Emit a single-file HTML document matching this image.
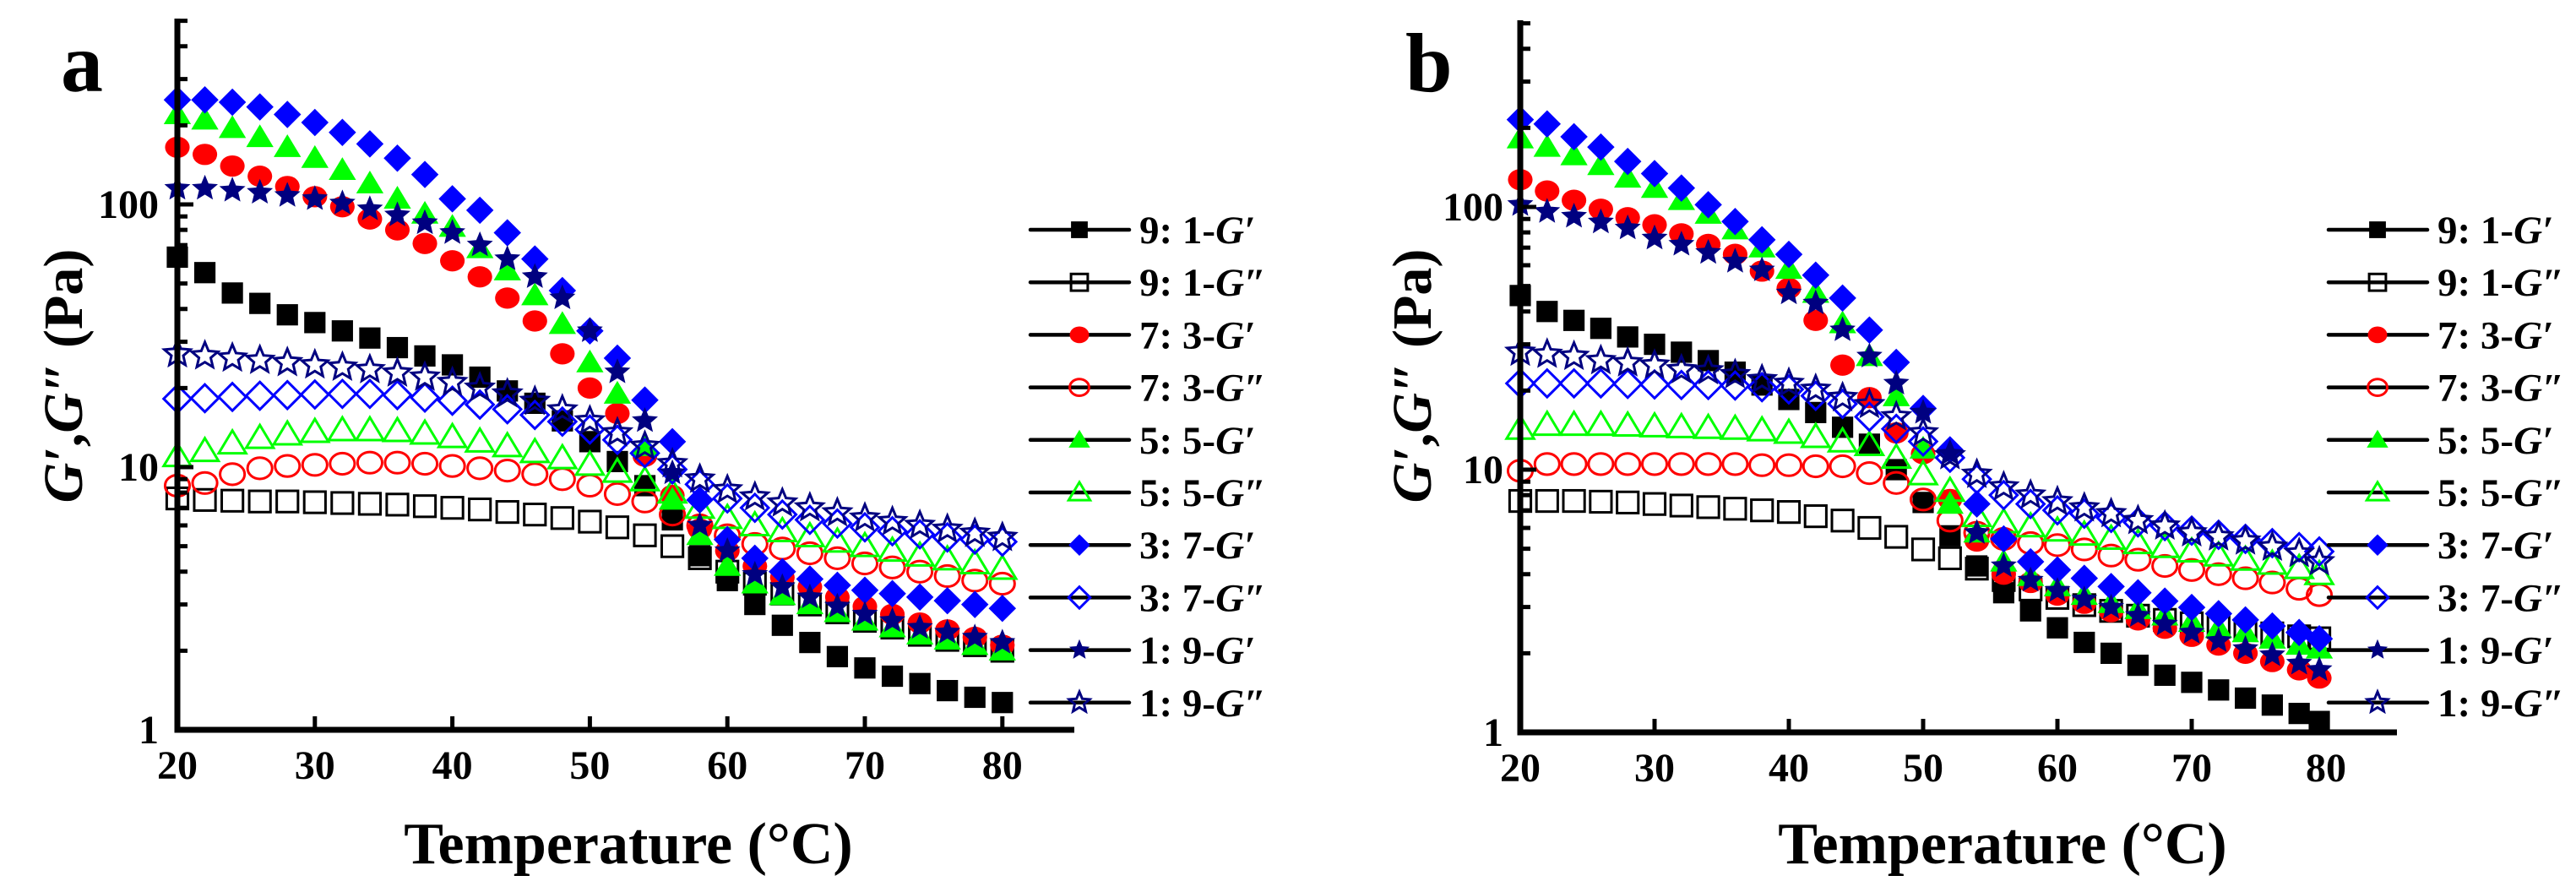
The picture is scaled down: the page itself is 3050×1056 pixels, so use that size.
<!DOCTYPE html>
<html><head><meta charset="utf-8"><style>
html,body{margin:0;padding:0;background:#fff;}
svg{display:block;font-family:"Liberation Serif",serif;font-weight:bold;}
</style></head><body>
<svg id="fig" width="3050" height="1056" viewBox="0 0 3050 1056" xmlns="http://www.w3.org/2000/svg"></svg>
<script>
const tempsA=[20,22,24,26,28,30,32,34,36,38,40,42,44,46,48,50,52,54,56,58,60,62,64,66,68,70,72,74,76,78,80];
const tempsB=[20,22,24,26,28,30,32,34,36,38,40,42,44,46,48,50,52,54,56,58,60,62,64,66,68,70,72,74,76,78,79.5];
const seriesNames=["9: 1-G′","9: 1-G″","7: 3-G′","7: 3-G″","5: 5-G′","5: 5-G″","3: 7-G′","3: 7-G″","1: 9-G′","1: 9-G″"];
const a_91Gp=[63,55,46,42,38,35.5,33,31,28.5,26.5,24.5,22,19.5,17.5,15,12.5,10.5,8.5,6.3,4.6,3.7,3.0,2.5,2.15,1.9,1.72,1.6,1.5,1.41,1.33,1.27];
const a_91Gpp=[7.6,7.5,7.45,7.4,7.4,7.35,7.3,7.25,7.2,7.1,7.0,6.9,6.75,6.6,6.4,6.2,5.9,5.5,5.0,4.5,4.0,3.6,3.3,3.0,2.8,2.6,2.45,2.3,2.2,2.1,2.0];
const a_73Gp=[165,155,140,128,117,107,98,88,80,71,61,53,44,36,27,20,16,11,7.8,5.8,4.8,4.2,3.8,3.5,3.2,2.95,2.75,2.55,2.4,2.25,2.1];
const a_73Gpp=[8.5,8.7,9.4,9.9,10.1,10.2,10.3,10.4,10.4,10.3,10.1,9.9,9.7,9.4,9.0,8.5,7.9,7.4,6.6,6.0,5.5,5.1,4.9,4.7,4.5,4.3,4.15,4.0,3.85,3.7,3.6];
const a_55Gp=[220,210,195,180,165,150,135,120,105,92,82,68,56,45,35,25,19,12,7.5,5.5,4.2,3.6,3.25,3.0,2.8,2.6,2.45,2.3,2.2,2.1,2.0];
const a_55Gpp=[11,11.5,12.3,12.9,13.3,13.6,13.8,13.8,13.7,13.4,13.0,12.5,12.0,11.4,10.8,10.2,9.6,8.9,8.0,7.0,6.4,6.0,5.7,5.45,5.2,5.0,4.8,4.6,4.45,4.3,4.1];
const a_37Gp=[250,250,245,235,220,205,188,170,150,130,105,95,78,62,47,33,26,18,12.5,7.5,5.3,4.5,4.0,3.75,3.55,3.4,3.3,3.2,3.1,3.0,2.9];
const a_37Gpp=[18.2,18.3,18.5,18.7,18.8,18.9,19,19,18.8,18.4,17.9,17.3,16.6,15.8,14.9,13.9,12.7,11.3,9.8,8.6,7.6,7.0,6.6,6.3,6.1,5.9,5.7,5.55,5.4,5.3,5.2];
const a_19Gp=[115,115,113,111,108,105,101,96,91,85,78,70,62,53,44,33,23,15,9.5,6,4.8,3.9,3.5,3.2,2.95,2.75,2.6,2.45,2.35,2.25,2.15];
const a_19Gpp=[27,26.5,26,25.5,25,24.5,24,23.5,22.8,22,21,20,19,17.8,16.5,15,13.5,12,10.3,9,8.2,7.7,7.3,7.0,6.7,6.4,6.2,6.0,5.8,5.6,5.4];
const b_91Gp=[46,40,37,34.5,32,30,28,26,23.5,21,18.5,16.5,14.5,12.5,10,7.5,5.6,4.3,3.4,2.9,2.5,2.2,2.0,1.8,1.65,1.55,1.45,1.35,1.27,1.18,1.1];
const b_91Gpp=[7.6,7.6,7.6,7.55,7.5,7.4,7.3,7.2,7.1,7.0,6.9,6.65,6.4,6.0,5.55,4.97,4.6,4.2,3.8,3.5,3.25,3.05,2.9,2.78,2.68,2.6,2.52,2.45,2.38,2.32,2.28];
const b_73Gp=[127,115,106,98,91,85.5,79,72,66,57,49,37,25,18.8,13.8,11.5,7.7,5.35,4.0,3.72,3.33,3.1,2.88,2.68,2.49,2.32,2.15,2.0,1.86,1.73,1.61];
const b_73Gpp=[9.9,10.5,10.5,10.5,10.5,10.5,10.5,10.5,10.5,10.4,10.4,10.3,10.3,9.7,8.9,7.7,6.4,5.75,5.45,5.25,5.16,4.97,4.71,4.54,4.3,4.15,4.0,3.86,3.72,3.52,3.33];
const b_55Gp=[182,169,157,144,129,118,106,94,82,70,58,47,36,27,19,12,7.4,5.75,4.46,3.93,3.59,3.33,3.1,2.94,2.78,2.63,2.49,2.4,2.27,2.15,2.08];
const b_55Gpp=[14.3,14.8,14.8,14.8,14.7,14.6,14.5,14.4,14.3,14.1,13.8,13.3,12.8,12.4,11.1,9.6,8.3,6.65,6.3,6.08,5.86,5.65,5.45,5.25,5.07,4.88,4.71,4.54,4.38,4.22,4.0];
const b_37Gp=[215,207,185,169,149,134,118,102,88,75,66,55,45,34,25.6,17.1,11.9,7.4,5.45,4.46,4.15,3.86,3.59,3.4,3.16,2.99,2.83,2.68,2.54,2.4,2.27];
const b_37Gpp=[21.3,21.3,21.3,21.3,21.2,21.1,21.0,21.0,20.9,20.6,20.2,19.1,17.8,15.9,14.3,12.8,11.1,9.2,8.0,7.4,7.0,6.8,6.55,6.3,6.1,5.86,5.65,5.45,5.25,5.07,4.88];
const b_19Gp=[102,96,92,87.5,83,76,72,67,62,57.5,47,43,34,27,21.3,16.5,11.5,5.75,4.3,3.79,3.46,3.21,2.99,2.78,2.58,2.4,2.23,2.08,1.97,1.83,1.73];
const b_19Gpp=[28,27.5,27,26,25.5,25,24,23.8,23,22,21.3,20.2,18.8,17.7,15.9,13.8,11.3,9.6,8.6,8.0,7.55,7.15,6.8,6.4,6.1,5.75,5.55,5.35,5.07,4.8,4.46];
const xTicks=[20,30,40,50,60,70,80];
const yTicks=[1,10,100];
const yTickLabels=["1","10","100"];

const NS="http://www.w3.org/2000/svg";
const svg=document.getElementById('fig');
function mk(tag,attrs,parent){const e=document.createElementNS(NS,tag);for(const k in attrs)e.setAttribute(k,attrs[k]);(parent||svg).appendChild(e);return e;}

const styles=[
 {shape:'square',fill:true,color:'#000000'},
 {shape:'square',fill:false,color:'#000000'},
 {shape:'circle',fill:true,color:'#ff0000'},
 {shape:'circle',fill:false,color:'#ff0000'},
 {shape:'triangle',fill:true,color:'#00ff00'},
 {shape:'triangle',fill:false,color:'#00ff00'},
 {shape:'diamond',fill:true,color:'#0000ff'},
 {shape:'diamond',fill:false,color:'#0000ff'},
 {shape:'star',fill:true,color:'#000080'},
 {shape:'star',fill:false,color:'#000080'}];

function marker(g,st,x,y,s){
  const fill=st.fill?st.color:'none', sw=st.fill?0:3;
  const common={fill:fill,stroke:st.color,'stroke-width':sw};
  let e;
  if(st.shape==='square'){const h=s*0.45;e=mk('rect',Object.assign({x:x-h,y:y-h,width:2*h,height:2*h},common),g);}
  else if(st.shape==='circle'){e=mk('ellipse',Object.assign({cx:x,cy:y,rx:s*0.52,ry:s*0.45},common),g);}
  else if(st.shape==='triangle'){const h=s*0.55;e=mk('polygon',Object.assign({points:`${x},${y-h} ${x+h*1.05},${y+h*0.75} ${x-h*1.05},${y+h*0.75}`},common),g);}
  else if(st.shape==='diamond'){const h=s*0.58;e=mk('polygon',Object.assign({points:`${x},${y-h} ${x+h},${y} ${x},${y+h} ${x-h},${y}`},common),g);}
  else {let p=[];const R=s*0.58,r=R*0.45;for(let i=0;i<10;i++){const a=-Math.PI/2+i*Math.PI/5,rr=i%2?r:R;p.push((x+rr*Math.cos(a)).toFixed(1)+','+(y+rr*Math.sin(a)).toFixed(1));}e=mk('polygon',Object.assign({points:p.join(' ')},common),g);}
  return e;
}

function panel(cfg){
  const {x0,x1,yTop,yBot,dx,label,labelX,series,temps,legX,titleX,ylabX,tickRight}=cfg;
  const dec=311;
  const xs=t=>x0+(t-20)*dx;
  const ys=v=>yBot-dec*Math.log10(v);
  const g=mk('g',{});
  
  
  series.forEach((vals,i)=>{
    const sg=mk('g',{},g);
    
    
    vals.forEach((v,j)=>{const m=marker(sg,styles[i],xs(temps[j]),ys(v),28);
      
      });
  });
  const ax=mk('g',{},g);
  
  
  mk('line',{x1:x0,y1:yTop,x2:x0,y2:yBot+3.5,stroke:'#000','stroke-width':7},ax);
  mk('line',{x1:x0-3.5,y1:yBot,x2:x1,y2:yBot,stroke:'#000','stroke-width':7},ax);
  xTicks.forEach(t=>{
    mk('line',{x1:xs(t),y1:yBot,x2:xs(t),y2:yBot-16,stroke:'#000','stroke-width':5},ax);
    const tx=mk('text',{x:xs(t),y:yBot+58,'font-size':48,'text-anchor':'middle'},ax);
    tx.textContent=t;
    
    
  });
  for(let d=0;d<3;d++){for(let k=1;k<=9;k++){const v=k*Math.pow(10,d);if(ys(v)<yTop)continue;
    const len=k===1?16:9;
    mk('line',{x1:x0,y1:ys(v),x2:x0+len+3,y2:ys(v),stroke:'#000','stroke-width':5},ax);}}
  yTicks.forEach((v,i)=>{
    const tx=mk('text',{x:tickRight,y:ys(v)+16,'font-size':48,'text-anchor':'end'},ax);
    tx.textContent=yTickLabels[i];
    
    
  });
  const xt=mk('text',{x:titleX,y:1022,'font-size':70,'text-anchor':'middle'},g);
  xt.textContent='Temperature (°C)';
  
  
  const yt=mk('text',{x:0,y:0,'font-size':66,'text-anchor':'middle',transform:`translate(${ylabX},445) rotate(-90)`},g);
  yt.innerHTML='<tspan font-style="italic">G′</tspan>,<tspan font-style="italic">G″</tspan> (Pa)';
  
  
  const pl=mk('text',{x:labelX,y:108,'font-size':100},g);
  pl.textContent=label;
  
  
  const lg=mk('g',{},g);
  
  
  seriesNames.forEach((n,i)=>{
    const y=272+62.2*i;
    const eg=mk('g',{},lg);
    
    
    mk('line',{x1:legX,y1:y,x2:legX+117,y2:y,stroke:'#000','stroke-width':4.5,'stroke-linecap':'round'},eg);
    marker(eg,styles[i],legX+58,y,22);
    const t=mk('text',{x:legX+129,y:y+16,'font-size':47},eg);
    const parts=n.split('-');
    t.innerHTML=parts[0]+'-<tspan font-style="italic">'+parts[1]+'</tspan>';
  });
}
panel({x0:210,x1:1272,yTop:22,yBot:864,dx:16.28,label:'a',labelX:72,legX:1220,titleX:744,ylabX:97,tickRight:188,temps:tempsA,
  series:[a_91Gp,a_91Gpp,a_73Gp,a_73Gpp,a_55Gp,a_55Gpp,a_37Gp,a_37Gpp,a_19Gp,a_19Gpp]});
panel({x0:1800,x1:2838,yTop:24,yBot:867,dx:15.9,label:'b',labelX:1664,legX:2757,titleX:2371,ylabX:1694,tickRight:1780,temps:tempsB,
  series:[b_91Gp,b_91Gpp,b_73Gp,b_73Gpp,b_55Gp,b_55Gpp,b_37Gp,b_37Gpp,b_19Gp,b_19Gpp]});
</script>
</body></html>
